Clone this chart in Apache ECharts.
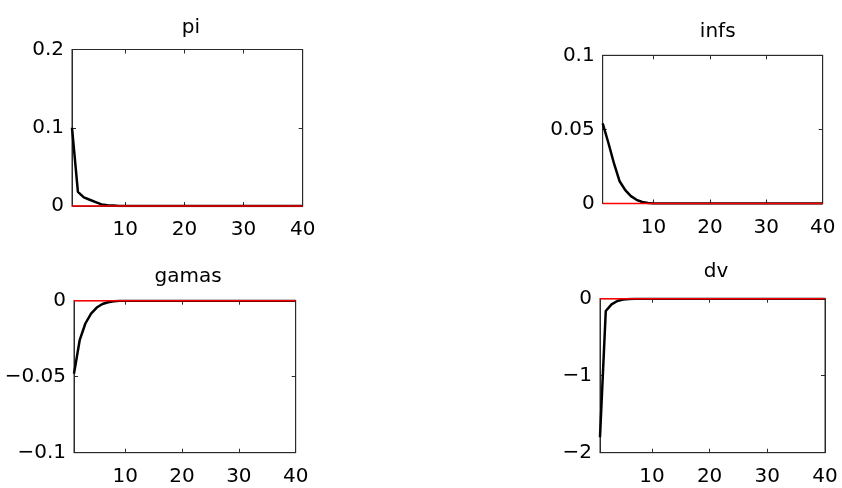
<!DOCTYPE html>
<html>
<head>
<meta charset="utf-8">
<script src="https://cdn.jsdelivr.net/npm/echarts@6/dist/echarts.min.js"></script>
<style>html,body{margin:0;padding:0;background:#fff}#c{width:842px;height:488px}</style>
</head>
<body>
<div id="c"></div>
<script>
// ---- data ----
const periods = [1,2,3,4,5,6,7,8,9,10,11,12,13,14,15,16,17,18,19,20,21,22,23,24,25,26,27,28,29,30,31,32,33,34,35,36,37,38,39,40];
const titles = ['pi', 'infs', 'gamas', 'dv'];
const piVals = [0.1, 0.018, 0.011, 0.008, 0.005, 0.002, 0.001, 0.0005, 0, 0, 0, 0, 0, 0, 0, 0, 0, 0, 0, 0, 0, 0, 0, 0, 0, 0, 0, 0, 0, 0, 0, 0, 0, 0, 0, 0, 0, 0, 0, 0];
const infsVals = [0.054, 0.041, 0.027, 0.015, 0.009, 0.005, 0.0025, 0.001, 0.0003, 0, 0, 0, 0, 0, 0, 0, 0, 0, 0, 0, 0, 0, 0, 0, 0, 0, 0, 0, 0, 0, 0, 0, 0, 0, 0, 0, 0, 0, 0, 0];
const gamasVals = [-0.048, -0.026, -0.015, -0.0085, -0.0045, -0.0022, -0.001, -0.0004, -0.0001, 0, 0, 0, 0, 0, 0, 0, 0, 0, 0, 0, 0, 0, 0, 0, 0, 0, 0, 0, 0, 0, 0, 0, 0, 0, 0, 0, 0, 0, 0, 0];
const dvVals = [-1.8, -0.16, -0.074, -0.03, -0.012, -0.005, -0.002, -0.0005, 0, 0, 0, 0, 0, 0, 0, 0, 0, 0, 0, 0, 0, 0, 0, 0, 0, 0, 0, 0, 0, 0, 0, 0, 0, 0, 0, 0, 0, 0, 0, 0];
const zeroVals = [0, 0, 0, 0, 0, 0, 0, 0, 0, 0, 0, 0, 0, 0, 0, 0, 0, 0, 0, 0, 0, 0, 0, 0, 0, 0, 0, 0, 0, 0, 0, 0, 0, 0, 0, 0, 0, 0, 0, 0];
const xTicks = [10, 20, 30, 40];
const yTicks = [[0, 0.1, 0.2], [0, 0.05, 0.1], [-0.1, -0.05, 0], [-2, -1, 0]];
const yTickLabels = [['0', '0.1', '0.2'], ['0', '0.05', '0.1'], ['\u22120.1', '\u22120.05', '0'], ['\u22122', '\u22121', '0']];
const seriesVals = [piVals, infsVals, gamasVals, dvVals];

// ---- layout ----
const boxes = [
  {l: 72, r: 302.7, t: 49.5, b: 206},
  {l: 602.7, r: 822.7, t: 55.3, b: 203.5},
  {l: 74, r: 295.7, t: 300.7, b: 452.7},
  {l: 600, r: 825, t: 298.7, b: 452.7}
];
const titlePos = [{x: 186, y: 13}, {x: 712.7, y: 17}, {x: 183, y: 262}, {x: 711, y: 257}];
const FONT = 'DejaVu Sans';
const axisCol = '#2b2b2b';

const grid = [], xAxis = [], yAxis = [], series = [], title = [];
boxes.forEach((b, i) => {
  grid.push({left: b.l, top: b.t, width: b.r - b.l, height: b.b - b.t, show: true,
    borderColor: axisCol, borderWidth: 1, backgroundColor: '#fff', containLabel: false});
  const yt = yTicks[i];
  const ymin = yt[0], ymax = yt[yt.length - 1];
  const fmt = (v) => { const k = yt.findIndex(t => Math.abs(t - v) < 1e-9); return k >= 0 ? yTickLabels[i][k] : ''; };
  xAxis.push({type: 'value', gridIndex: i, min: 1, max: 40, position: 'bottom',
    axisLine: {show: true, onZero: false, lineStyle: {color: axisCol, width: 1}},
    axisTick: {show: true, inside: true, length: 4, customValues: xTicks, lineStyle: {color: axisCol}},
    axisLabel: {show: true, customValues: xTicks, margin: 14, fontFamily: FONT, fontSize: 20, color: '#000'},
    splitLine: {show: false}});
  xAxis.push({type: 'value', gridIndex: i, min: 1, max: 40, position: 'top',
    axisLine: {show: true, onZero: false, lineStyle: {color: axisCol, width: 1}},
    axisTick: {show: true, inside: true, length: 4, customValues: xTicks, lineStyle: {color: axisCol}},
    axisLabel: {show: false}, splitLine: {show: false}});
  yAxis.push({type: 'value', gridIndex: i, min: ymin, max: ymax, position: 'left',
    axisLine: {show: true, onZero: false, lineStyle: {color: axisCol, width: 1}},
    axisTick: {show: true, inside: true, length: 4, customValues: yt, lineStyle: {color: axisCol}},
    axisLabel: {show: true, customValues: yt, margin: 8, fontFamily: FONT, fontSize: 20, color: '#000', formatter: fmt},
    splitLine: {show: false}});
  yAxis.push({type: 'value', gridIndex: i, min: ymin, max: ymax, position: 'right',
    axisLine: {show: true, onZero: false, lineStyle: {color: axisCol, width: 1}},
    axisTick: {show: true, inside: true, length: 4, customValues: yt, lineStyle: {color: axisCol}},
    axisLabel: {show: false}, splitLine: {show: false}});
  const xi = i * 2, yi = i * 2;
  series.push({type: 'line', xAxisIndex: xi, yAxisIndex: yi, data: periods.map((p, k) => [p, seriesVals[i][k]]),
    showSymbol: false, symbol: 'none', lineStyle: {color: '#000', width: 2.5}, z: 3, animation: false, clip: true});
  series.push({type: 'line', xAxisIndex: xi, yAxisIndex: yi, data: periods.map((p, k) => [p, zeroVals[k]]),
    showSymbol: false, symbol: 'none', lineStyle: {color: '#ff0000', width: 1.5}, z: 4, animation: false, clip: false});
  title.push({text: titles[i], left: titlePos[i].x, top: titlePos[i].y, textAlign: 'center',
    textStyle: {fontFamily: FONT, fontSize: 20, fontWeight: 'normal', color: '#000'}});
});

const chart = echarts.init(document.getElementById('c'), null, {renderer: 'canvas'});
chart.setOption({animation: false, backgroundColor: '#fff', title, grid, xAxis, yAxis, series});
</script>
</body>
</html>
